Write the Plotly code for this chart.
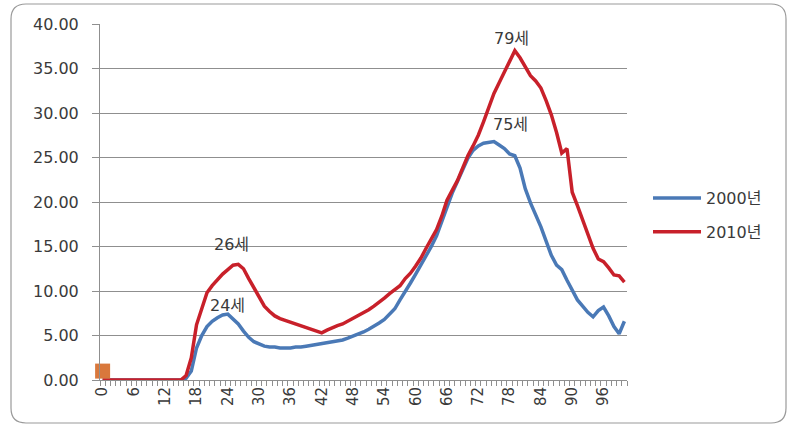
import plotly.graph_objects as go

# Age (years) on the category axis
ages = list(range(0, 101))

# Rate by age, 2000
rate_2000 = [
    0.0, 0.0, 0.0, 0.0, 0.0, 0.0, 0.0, 0.0, 0.0, 0.0,
    0.0, 0.0, 0.0, 0.0, 0.0, 0.0, 0.2, 1.0, 3.6, 5.0,
    6.0, 6.6, 7.0, 7.3, 7.4, 6.9, 6.3, 5.5, 4.8, 4.3,
    4.0, 3.8, 3.7, 3.7, 3.6, 3.6, 3.6, 3.7, 3.7, 3.8,
    3.9, 4.0, 4.1, 4.2, 4.3, 4.4, 4.5, 4.7, 4.9, 5.1,
    5.4, 5.7, 6.0, 6.4, 6.8, 7.4, 8.0, 9.0, 9.9, 10.9,
    11.9, 12.9, 13.9, 15.0, 16.2, 17.9, 19.6, 21.0, 22.3, 23.6,
    24.9, 25.8, 26.3, 26.6, 26.7, 26.8, 26.4, 26.0, 25.4, 25.2,
    23.8, 21.5, 19.9, 18.6, 17.2, 15.6, 14.0, 12.9, 12.4, 11.2,
    10.1, 9.0, 8.3, 7.6, 7.1, 7.8, 8.2, 7.2, 6.0, 5.2,
    6.6,
]

# Rate by age, 2010
rate_2010 = [
    0.0, 0.0, 0.0, 0.0, 0.0, 0.0, 0.0, 0.0, 0.0, 0.0,
    0.0, 0.0, 0.0, 0.0, 0.0, 0.0, 0.5, 2.5, 6.2, 8.0,
    9.8, 10.6, 11.3, 11.9, 12.4, 12.9, 13.0, 12.5, 11.4, 10.3,
    9.2, 8.3, 7.7, 7.2, 6.9, 6.7, 6.4, 6.2, 6.0, 5.8,
    5.6, 5.4, 5.3, 5.6, 5.9, 6.1, 6.3, 6.6, 6.9, 7.2,
    7.5, 7.9, 8.3, 8.7, 9.2, 9.7, 10.2, 10.6, 11.4, 12.0,
    12.8, 13.7, 14.8, 15.8, 16.9, 18.4, 20.2, 21.3, 22.4, 23.8,
    25.2, 26.3, 27.5, 29.0, 30.6, 32.2, 33.4, 34.6, 35.8, 37.0,
    36.2, 35.2, 34.2, 33.6, 32.8, 31.4, 29.8, 27.8, 25.5, 26.0,
    21.1, 19.6, 18.0, 16.5, 14.8, 13.6, 13.3, 12.6, 11.8, 11.7,
    11.0,
]

# Extra single-point series at age 0
marker_ages = [0]
marker_vals = [1.0]

# Peak labels: (age, series)
peak_2000 = [24, 75]
peak_2010 = [26, 79]

series_names = ["2000년", "2010년"]
x_tick_vals = list(range(0, 97, 6))
y_tick_vals = [0, 5, 10, 15, 20, 25, 30, 35, 40]

BLUE = "#4A79B6"
RED = "#C8202A"
ORANGE = "#D9783C"
GRID = "#8F8F8F"
TEXT = "#3A3A3A"
FONT = "DejaVu Sans, Noto Sans CJK KR, sans-serif"

W, H = 790, 426
L, R, T, B = 100, 627, 24, 380


def px_to_paper(px, py):
    return (px - L) / (R - L), (B - py) / (B - T)


fig = go.Figure()

fig.add_trace(go.Scatter(
    x=ages, y=rate_2000, mode="lines", name=series_names[0],
    line=dict(color=BLUE, width=3.5), legendgroup="a",
))
fig.add_trace(go.Scatter(
    x=ages, y=rate_2010, mode="lines", name=series_names[1],
    line=dict(color=RED, width=3.5), legendgroup="b",
))
fig.add_trace(go.Scatter(
    x=marker_ages, y=marker_vals, mode="markers", showlegend=False,
    marker=dict(symbol="square", size=15, color=ORANGE), cliponaxis=False,
))

annotations = []
label_shift = {24: (0, -3), 75: (17, 5), 26: (-7, 8), 79: (-3, 1)}
for age in peak_2000:
    dx, dy = label_shift[age]
    annotations.append(dict(
        x=age, y=rate_2000[age], text=f"{age}세", showarrow=False,
        xanchor="center", yanchor="bottom", xshift=dx, yshift=dy,
        font=dict(family=FONT, size=16, color=TEXT),
    ))
for age in peak_2010:
    dx, dy = label_shift[age]
    annotations.append(dict(
        x=age, y=rate_2010[age], text=f"{age}세", showarrow=False,
        xanchor="center", yanchor="bottom", xshift=dx, yshift=dy,
        font=dict(family=FONT, size=16, color=TEXT),
    ))

# Rounded outer frame around the whole chart
x0, y0 = px_to_paper(11, 4)
x1, y1 = px_to_paper(786, 423)
rx = 15 / (R - L)
ry = 15 / (B - T)
frame = (
    f"M {x0 + rx},{y0} L {x1 - rx},{y0} Q {x1},{y0} {x1},{y0 - ry} "
    f"L {x1},{y1 + ry} Q {x1},{y1} {x1 - rx},{y1} "
    f"L {x0 + rx},{y1} Q {x0},{y1} {x0},{y1 + ry} "
    f"L {x0},{y0 - ry} Q {x0},{y0} {x0 + rx},{y0} Z"
)

lx, ly = px_to_paper(648, 181)

fig.update_layout(
    width=W, height=H,
    margin=dict(l=L, r=W - R, t=T, b=H - B),
    paper_bgcolor="white", plot_bgcolor="white",
    font=dict(family=FONT, size=16, color=TEXT),
    showlegend=True,
    legend=dict(
        x=lx, y=ly, xanchor="left", yanchor="top",
        font=dict(family=FONT, size=16, color=TEXT),
        tracegroupgap=10, bgcolor="rgba(0,0,0,0)", itemwidth=48,
    ),
    annotations=annotations,
    shapes=[dict(type="path", xref="paper", yref="paper", path=frame,
                 line=dict(color="#9A9A9A", width=1.2), layer="below")],
    xaxis=dict(
        range=[-0.5, 100.5], tickvals=x_tick_vals,
        ticktext=[str(v) for v in x_tick_vals], tickangle=-90,
        tickfont=dict(family=FONT, size=15, color=TEXT),
        ticks="", showgrid=False, zeroline=False,
        showline=True, linecolor=GRID, linewidth=1,
        minor=dict(ticks="outside", tick0=-0.5, dtick=1, ticklen=5,
                   tickcolor=GRID, showgrid=False),
        fixedrange=True,
    ),
    yaxis=dict(
        range=[0, 40], tickvals=y_tick_vals, tickformat=".2f",
        tickfont=dict(family=FONT, size=16, color=TEXT),
        ticks="outside", ticklen=7, tickcolor=GRID,
        showgrid=True, gridcolor=GRID, gridwidth=1, zeroline=False,
        showline=True, linecolor=GRID, linewidth=1,
        ticklabelstandoff=10, fixedrange=True,
    ),
)

fig.write_html("out.html")
